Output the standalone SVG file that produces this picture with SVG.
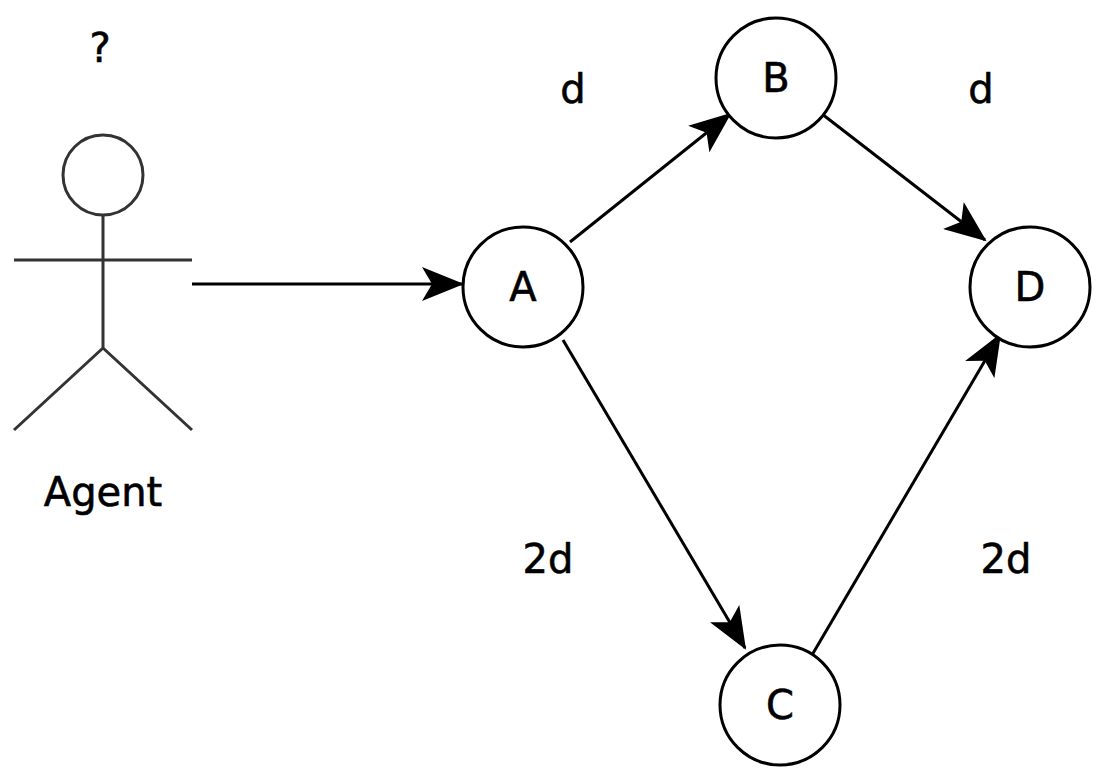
<svg xmlns="http://www.w3.org/2000/svg" width="1101" height="777" viewBox="0 0 1101 777">
<style>
.n{fill:#fff;stroke:#000;stroke-width:3}
.t{font-family:"DejaVu Sans",sans-serif;font-size:40px;fill:#000;text-anchor:middle;stroke:#000;stroke-width:0.6}
.e{stroke:#000;stroke-width:3;fill:none;marker-end:url(#ah)}
.ag{stroke:#333;stroke-width:3;fill:none}
</style>
<defs>
<marker id="ah" markerUnits="userSpaceOnUse" markerWidth="44" markerHeight="34" refX="40" refY="17" orient="auto">
<path d="M0,0 L42,17 L0,34 L10,17 Z" fill="#000"/>
</marker>
</defs>
<rect width="1101" height="777" fill="#fff"/>
<g id="agent">
<circle class="ag" cx="103" cy="175" r="40"/>
<path class="ag" d="M103,215 V348 M14,260 H192 M103,348 L14,430 M103,348 L192,430"/>
<text class="t" x="103" y="506" font-size="47">Agent</text>
<text class="t" x="100" y="62">?</text>
</g>
<g id="connectors">
<path class="e" d="M192,284 H462"/>
<path class="e" d="M570,242 L730,114"/>
<path class="e" d="M822,114 L985,240"/>
<path class="e" d="M563,340 L745,648"/>
<path class="e" d="M812,655 L1000,335"/>
</g>
<g id="labels">
<text class="t" x="573" y="103">d</text>
<text class="t" x="981" y="103">d</text>
<text class="t" x="548" y="573">2d</text>
<text class="t" x="1006" y="573">2d</text>
</g>
<g id="A"><circle class="n" cx="523" cy="287" r="60"/><text class="t" x="523" y="301">A</text></g>
<g id="B"><circle class="n" cx="776" cy="78" r="60"/><text class="t" x="776" y="92">B</text></g>
<g id="C"><circle class="n" cx="780" cy="705" r="60"/><text class="t" x="780" y="719">C</text></g>
<g id="D"><circle class="n" cx="1030" cy="287" r="60"/><text class="t" x="1030" y="301">D</text></g>
</svg>
